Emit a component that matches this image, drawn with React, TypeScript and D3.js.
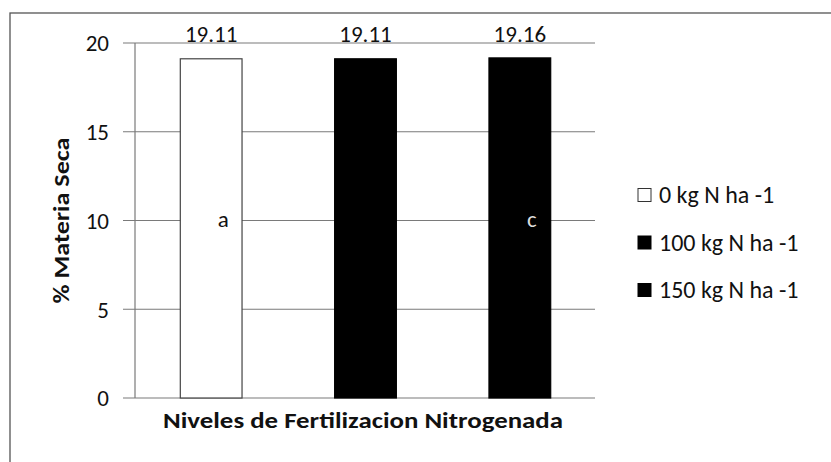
import * as d3 from "d3";

const SERIES = ["0 kg N ha -1", "100 kg N ha -1", "150 kg N ha -1"];
const VALUES = [19.11, 19.11, 19.16];
const LETTERS = ["a", "", "c"];
const Y_TICKS = [0, 5, 10, 15, 20];
const X_TITLE = "Niveles de Fertilizacion Nitrogenada";
const Y_TITLE = "% Materia Seca";

const FILLS = ["#ffffff", "#000000", "#000000"];
const FONT = "Carlito, Lato, 'Open Sans', sans-serif";

const W = 831;
const H = 462;
const plot = { left: 134, right: 597, top: 43, bottom: 398 };

export default function App() {
  const x = d3
    .scaleBand<string>()
    .domain(SERIES)
    .range([plot.left, plot.right])
    .paddingInner(0.6)
    .paddingOuter(0.3);
  const y = d3.scaleLinear().domain([0, 20]).range([plot.bottom, plot.top]);
  const bw = x.bandwidth();

  return (
    <svg
      width={W}
      height={H}
      style={{ position: "absolute", left: 0, top: 0, display: "block", background: "#fff" }}
      fontFamily={FONT}
    >
      {/* chart frame (scan edge) */}
      <rect x={10} y={13} width={W} height={H} fill="none" stroke="#555" strokeWidth={1.3} />

      {/* gridlines + left ticks */}
      {Y_TICKS.map((t) => (
        <g key={t}>
          <line x1={plot.left - 11} x2={plot.right - 2} y1={y(t)} y2={y(t)} stroke="#7a7a7a" strokeWidth={1.2} />
          <text x={109} y={y(t)} dy="0.36em" textAnchor="end" fontSize={23} fill="#111">
            {t}
          </text>
        </g>
      ))}
      <line x1={135} x2={135} y1={plot.top} y2={plot.bottom} stroke="#7a7a7a" strokeWidth={1.2} />

      {/* bars */}
      {SERIES.map((s, i) => (
        <g key={s}>
          <rect
            x={x(s)}
            y={y(VALUES[i])}
            width={bw}
            height={plot.bottom - y(VALUES[i])}
            fill={FILLS[i]}
            stroke={i === 0 ? "#444" : "#000"}
            strokeWidth={1.2}
          />
          <text x={x(s)! + bw / 2} y={y(20) - 1} textAnchor="middle" fontSize={23} fill="#111">
            {VALUES[i].toFixed(2)}
          </text>
          {LETTERS[i] && (
            <text
              x={x(s)! + bw / 2 + 12}
              y={y(10)}
              dy="0.3em"
              textAnchor="middle"
              fontSize={23}
              fill={i === 0 ? "#111" : "#ddd"}
            >
              {LETTERS[i]}
            </text>
          )}
        </g>
      ))}

      {/* axis titles */}
      <text
        x={363}
        y={428}
        textAnchor="middle"
        fontSize={22}
        fontWeight="bold"
        fill="#111"
        textLength={400}
        lengthAdjust="spacingAndGlyphs"
      >
        {X_TITLE}
      </text>
      <text
        transform={`translate(69,${(plot.top + plot.bottom) / 2}) rotate(-90)`}
        textAnchor="middle"
        fontSize={22}
        fontWeight="bold"
        fill="#111"
        textLength={166}
        lengthAdjust="spacingAndGlyphs"
      >
        {Y_TITLE}
      </text>

      {/* legend */}
      {SERIES.map((s, i) => {
        const cy = 195 + i * 47.5;
        return (
          <g key={s}>
            <rect
              x={638}
              y={cy - 6.5}
              width={13}
              height={13}
              fill={FILLS[i]}
              stroke={i === 0 ? "#333" : "#000"}
              strokeWidth={1}
            />
            <text x={659} y={cy} dy="0.35em" fontSize={24} fill="#111">
              {s}
            </text>
          </g>
        );
      })}
    </svg>
  );
}
